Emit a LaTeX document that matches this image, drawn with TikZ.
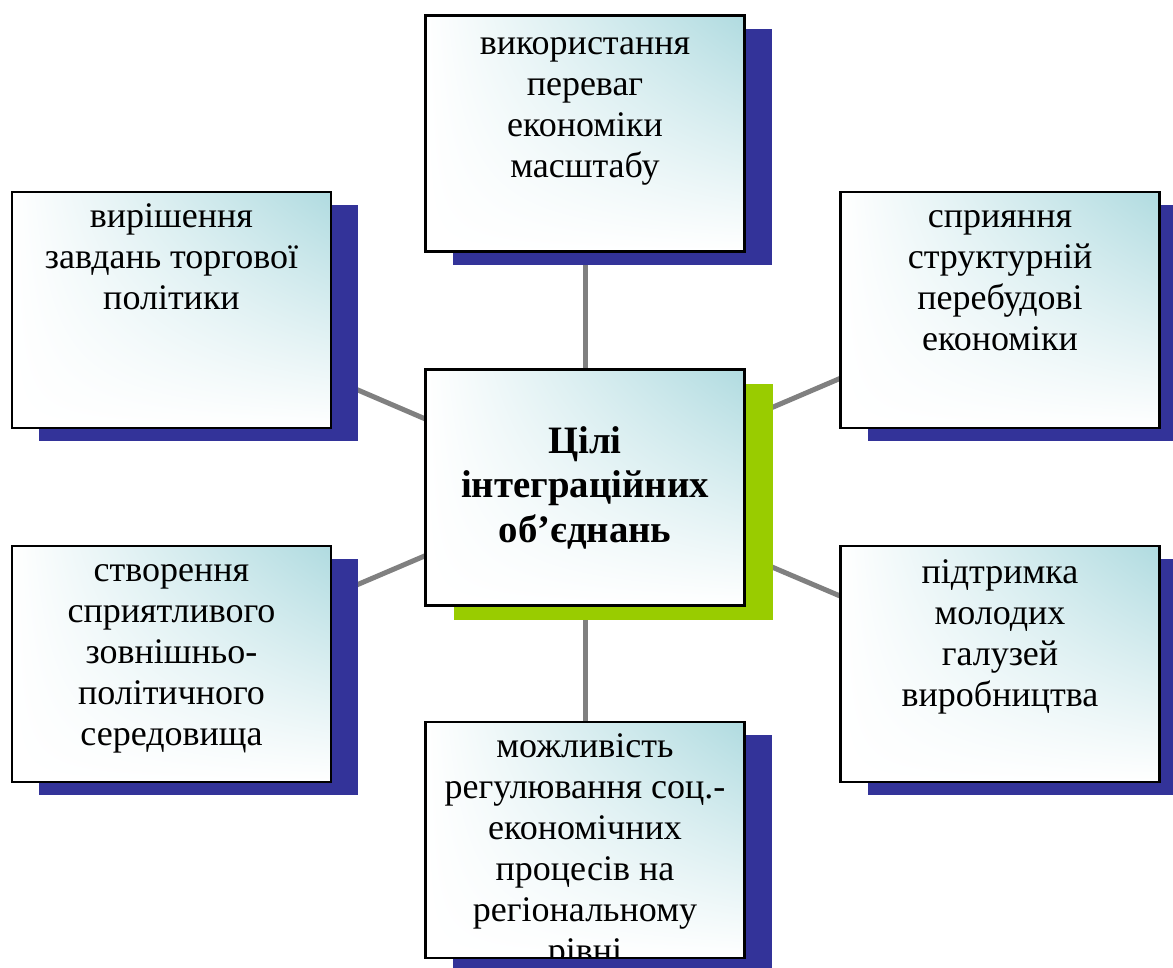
\documentclass[tikz,border=0pt]{standalone}
\usepackage{fontspec}
\setmainfont{Liberation Serif}
\usetikzlibrary{shadows,backgrounds,shadings}
\definecolor{navyc}{RGB}{51,51,153}
\definecolor{limec}{RGB}{153,204,0}
\definecolor{tealc}{RGB}{176,219,224}
\definecolor{linec}{RGB}{128,128,128}
\tikzset{
  boxbase/.style={rectangle, draw=black, line width=2.4pt, inner sep=0pt,
    minimum width=319pt, minimum height=236pt,
    lower left=white, upper left=white, lower right=white, upper right=tealc},
  goalbox/.style={boxbase, general shadow={fill=navyc, shadow xshift=27pt, shadow yshift=-13pt}},
  centerbox/.style={boxbase, general shadow={fill=limec, shadow xshift=28pt, shadow yshift=-14pt},
    align=center, font=\fontsize{38.8}{44.5}\selectfont\bfseries},
  gtext/.style={anchor=north, align=center, inner sep=0pt, text=black,
    font=\fontsize{36}{41}\selectfont},
  conn/.style={draw=linec, line width=5pt}
}
\begin{document}
\begin{tikzpicture}[x=1pt,y=-1pt]
\useasboundingbox (0,0) rectangle (1173,967);
\clip (0,0) rectangle (1173,967);
\node[centerbox] (c) at (585,487.5) {Цілі\\інтеграційних\\об’єднань};
\node[goalbox] (t) at (585,133.5) {};
\node[goalbox] (tl) at (171.5,310) {};
\node[goalbox] (tr) at (1000,310) {};
\node[goalbox] (bl) at (171.5,664) {};
\node[goalbox] (br) at (1000,664) {};
\node[goalbox] (b) at (585,840) {};
\node[gtext] (tT) at ([yshift=-11pt]t.north) {\strut використання\\переваг\\економіки\\масштабу};
\node[gtext] (tlT) at ([yshift=-8pt]tl.north) {\strut вирішення\\завдань торгової\\політики};
\node[gtext] (trT) at ([yshift=-8pt]tr.north) {\strut сприяння\\структурній\\перебудові\\економіки};
\node[gtext] (blT) at ([yshift=-8pt]bl.north) {\strut створення\\сприятливого\\зовнішньо-\\політичного\\середовища};
\node[gtext] (brT) at ([yshift=-10pt]br.north) {\strut підтримка\\молодих\\галузей\\виробництва};
\begin{scope}
\clip ([xshift=1.2pt,yshift=-1.2pt]b.north west) rectangle ([xshift=-1.2pt,yshift=1.2pt]b.south east);
\node[gtext] (bT) at ([yshift=-8pt]b.north) {\strut можливість\\регулювання соц.-\\економічних\\процесів на\\регіональному\\рівні};
\end{scope}
\begin{pgfonlayer}{background}
\draw[conn] (c.center) -- (t.center);
\draw[conn] (c.center) -- (b.center);
\draw[conn] (c.center) -- (tl.center);
\draw[conn] (c.center) -- (tr.center);
\draw[conn] (c.center) -- (bl.center);
\draw[conn] (c.center) -- (br.center);
\end{pgfonlayer}
\end{tikzpicture}
\end{document}
